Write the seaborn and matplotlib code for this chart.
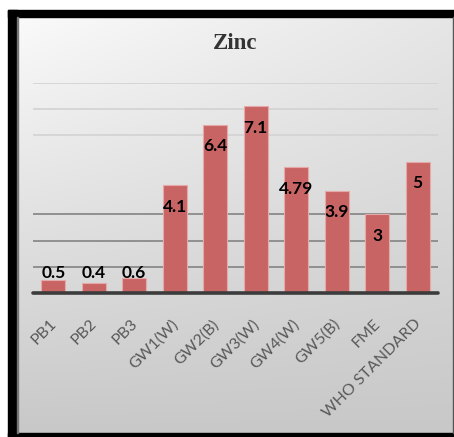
import numpy as np
import pandas as pd
import matplotlib
matplotlib.use("Agg")
import matplotlib.pyplot as plt
import matplotlib.transforms as mtransforms
import seaborn as sns
from matplotlib.patches import Rectangle

# Zinc concentration per sampling site
sites = ["PB1", "PB2", "PB3", "GW1(W)", "GW2(B)", "GW3(W)", "GW4(W)",
         "GW5(B)", "FME", "WHO STANDARD"]
zinc = [0.5, 0.4, 0.6, 4.1, 6.4, 7.1, 4.79, 3.9, 3, 5]
value_labels = ["0.5", "0.4", "0.6", "4.1", "6.4", "7.1", "4.79", "3.9", "3", "5"]
strong_grid = [1, 2, 3]
faint_grid = [6, 7, 8]

W, H = 454, 437
sns.set_theme(style="white")

fig = plt.figure(figsize=(W / 100, H / 100), dpi=100)
fig.patch.set_facecolor("white")

# Background layer in pixel coordinates: black frame and grey gradient panel
bg = fig.add_axes([0, 0, 1, 1], zorder=-10)
bg.set_xlim(0, W)
bg.set_ylim(H, 0)
bg.axis("off")
ny, nx = 200, 200
yy = np.linspace(0, 1, ny)[:, None]
xx = np.linspace(0, 1, nx)[None, :]
shade = (250 - 50 * yy - 20 * xx * (1 - yy)) / 255.0
rgb = np.dstack([shade, shade, shade])
bg.imshow(rgb, extent=(16, 453, 433, 17), aspect="auto", interpolation="bilinear")
bg.add_patch(Rectangle((8, 10), 8.5, H - 10, color="black"))
bg.add_patch(Rectangle((8, 10), W - 8, 7, color="black"))
bg.add_patch(Rectangle((8, 433), W - 8, 4, color="black"))
bg.add_patch(Rectangle((452.5, 17), 1.5, 416, color="#555555"))
bg.add_patch(Rectangle((16.5, 17), 1, 416, color="#777777"))

# Plot area
x0, x1 = 33, 438
y_base, y_top = 293.3, 82.7
ax = fig.add_axes([x0 / W, 1 - y_base / H, (x1 - x0) / W, (y_base - y_top) / H])
ax.patch.set_alpha(0)

df = pd.DataFrame({"site": sites, "zinc": zinc})
ax.hlines(strong_grid, -0.5, 9.5, color="#8a8a8a", lw=1.3, zorder=0)
ax.hlines(faint_grid, -0.5, 9.5, color="#d4d4d4", lw=1.3, zorder=0)
sns.barplot(data=df, x="site", y="zinc", color="#c96464", width=0.6,
            saturation=1, edgecolor="#e6a8a8", linewidth=0.8, ax=ax, zorder=2)
ax.axhline(0, color="#3c3c3c", lw=2.6, zorder=3, clip_on=False)

ax.set_xlim(-0.5, 9.5)
ax.set_ylim(0, 8)
for s in ax.spines.values():
    s.set_visible(False)
ax.set_yticks([])
ax.set_xlabel("")
ax.set_ylabel("")
ax.tick_params(axis="x", length=0, pad=17)
ax.set_xticks(range(len(sites)))
ax.set_xticklabels(sites, rotation=45, ha="right", rotation_mode="anchor",
                   color="#595959", fontsize=11.5, family="Lato")
shift = mtransforms.ScaledTranslation(-4 / 100, 0, fig.dpi_scale_trans)
for lbl in ax.get_xticklabels():
    lbl.set_transform(lbl.get_transform() + shift)

for i, (v, lab) in enumerate(zip(zinc, value_labels)):
    ax.text(i, max(v - 0.82, 0.77), lab, ha="center", va="center",
            fontsize=12.5, fontweight="bold", color="black", family="Lato", zorder=4)

fig.text(235.5 / W, 1 - 43.5 / H, "Zinc", ha="center", va="center",
         fontsize=16.5, fontweight="bold", family="Liberation Serif", color="#333333")

fig.savefig("out.png", dpi=100)
